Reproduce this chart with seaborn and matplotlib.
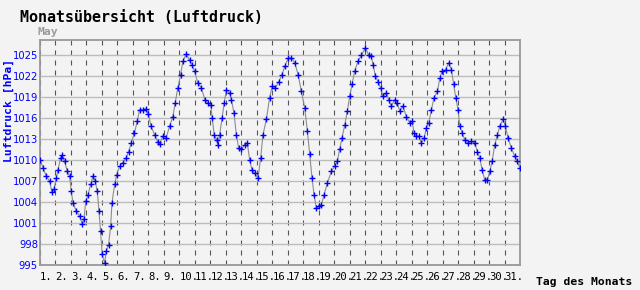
import matplotlib
matplotlib.use("Agg")
import matplotlib.pyplot as plt
import matplotlib.transforms as mtrans
import seaborn as sns
import pandas as pd

# ---- data ----
title = "Monatsübersicht (Luftdruck)"
month_label = "May"
y_label = "Luftdruck [hPa]"
x_label = "Tag des Monats"
day_labels = [f"{d}." for d in range(1, 32)]
y_ticks = [995, 998, 1001, 1004, 1007, 1010, 1013, 1016, 1019, 1022, 1025]

day = [0.00, 0.20, 0.40, 0.62, 0.77, 0.90, 1.05, 1.16, 1.33, 1.42, 1.59, 1.76, 1.91,
       2.02, 2.13, 2.34, 2.56, 2.73, 2.84, 2.95, 3.10, 3.27, 3.42, 3.57, 3.70, 3.81,
       3.91, 4.02, 4.17, 4.28, 4.43, 4.56, 4.65, 4.82, 4.95, 5.14, 5.35, 5.57, 5.72,
       5.89, 6.10, 6.28, 6.43, 6.65, 6.86, 7.00, 7.18, 7.40, 7.61, 7.72, 7.93, 8.15,
       8.37, 8.58, 8.73, 8.90, 9.08, 9.23, 9.44, 9.66, 9.81, 9.98, 10.19, 10.43,
       10.64, 10.86, 11.03, 11.12, 11.25, 11.40, 11.50, 11.60, 11.76, 11.89, 12.04,
       12.25, 12.36, 12.53, 12.68, 12.83, 13.00, 13.22, 13.39, 13.54, 13.69, 13.86,
       14.08, 14.25, 14.40, 14.62, 14.83, 14.99, 15.20, 15.42, 15.63, 15.81, 16.02,
       16.24, 16.45, 16.67, 16.88, 17.10, 17.27, 17.42, 17.57, 17.70, 17.85, 18.00,
       18.17, 18.34, 18.56, 18.82, 19.03, 19.20, 19.35, 19.50, 19.68, 19.85, 20.00,
       20.15, 20.32, 20.54, 20.76, 21.01, 21.23, 21.40, 21.51, 21.66, 21.83, 22.00,
       22.15, 22.37, 22.52, 22.69, 22.91, 23.08, 23.23, 23.45, 23.66, 23.88, 24.03,
       24.16, 24.31, 24.46, 24.63, 24.80, 24.96, 25.11, 25.28, 25.45, 25.67, 25.82,
       25.97, 26.19, 26.40, 26.57, 26.72, 26.85, 27.00, 27.11, 27.26, 27.43, 27.65,
       27.86, 28.08, 28.25, 28.40, 28.55, 28.72, 28.90, 29.05, 29.20, 29.37, 29.54,
       29.69, 29.91, 30.06, 30.23, 30.45, 30.66, 30.83, 30.98]

pressure = [1010.0, 1008.9, 1007.7, 1007.0, 1005.4, 1005.8, 1007.4, 1008.6, 1010.3,
            1010.7, 1009.8, 1008.4, 1007.7, 1005.5, 1003.9, 1002.7, 1002.0, 1000.8,
            1001.5, 1004.1, 1005.0, 1006.5, 1007.7, 1007.0, 1005.5, 1002.7, 999.8,
            996.5, 995.3, 997.0, 997.9, 1000.5, 1003.9, 1006.5, 1007.9, 1009.1, 1009.6,
            1010.3, 1011.2, 1012.4, 1013.9, 1015.5, 1017.2, 1017.2, 1017.3, 1016.5,
            1014.8, 1013.6, 1012.6, 1012.3, 1013.4, 1013.2, 1014.8, 1016.2, 1018.1,
            1020.3, 1022.2, 1024.1, 1025.1, 1024.3, 1023.6, 1022.7, 1021.0, 1020.3,
            1018.6, 1018.1, 1017.9, 1016.0, 1013.6, 1012.9, 1012.1, 1013.6, 1016.0,
            1018.1, 1020.0, 1019.6, 1018.6, 1016.7, 1013.6, 1011.7, 1011.5, 1012.2,
            1012.4, 1010.0, 1008.6, 1008.1, 1007.4, 1010.3, 1013.6, 1015.8, 1018.9,
            1020.5, 1020.3, 1021.2, 1022.2, 1023.4, 1024.5, 1024.6, 1023.9, 1022.2,
            1019.8, 1017.4, 1014.1, 1010.8, 1007.4, 1005.0, 1003.1, 1003.4, 1003.6,
            1005.0, 1006.7, 1008.4, 1009.1, 1009.8, 1011.5, 1013.1, 1015.0, 1017.0,
            1019.1, 1020.8, 1022.7, 1024.1, 1025.0, 1026.0, 1025.0, 1024.8, 1023.6,
            1022.0, 1021.2, 1020.3, 1019.1, 1019.6, 1018.6, 1017.7, 1018.6, 1018.1,
            1017.0, 1017.7, 1016.2, 1015.3, 1015.5, 1013.9, 1013.4, 1013.4, 1012.4,
            1013.1, 1014.6, 1015.3, 1017.2, 1018.9, 1019.8, 1021.7, 1022.7, 1022.9,
            1023.9, 1022.9, 1020.8, 1018.9, 1017.2, 1014.8, 1013.9, 1012.9, 1012.4,
            1012.7, 1012.4, 1011.2, 1010.3, 1008.6, 1007.2, 1007.2, 1008.4, 1009.8,
            1012.2, 1013.6, 1014.8, 1015.8, 1014.8, 1013.1, 1011.7, 1010.5, 1009.8,
            1008.9]

df = pd.DataFrame({"day": day, "hpa": pressure})

# ---- style ----
sns.set_style("white")
plt.rcParams["font.family"] = ["DejaVu Sans Mono", "DejaVu Sans"]
plt.rcParams["lines.scale_dashes"] = False
bg = "#f3f3f3"

fig = plt.figure(figsize=(6.4, 2.9), dpi=100, facecolor=bg)
W, H = 640, 290
L, R, T, B = 40, 520, 40, 265
ax = fig.add_axes([L / W, 1 - B / H, (R - L) / W, (B - T) / H])
ax.set_facecolor(bg)

sns.lineplot(data=df, x="day", y="hpa", ax=ax, sort=False, estimator=None,
             color="#8c8c8c", linewidth=0.8, marker="+", markersize=4.5,
             markeredgecolor="#0000ff", markeredgewidth=1.0, zorder=3)

ax.set_xlim(0, 31)
ax.set_ylim(995, 995 + (B - T) / 7.0)

# y axis
ax.set_yticks(y_ticks)
ax.set_yticklabels([str(v) for v in y_ticks], color="#0000ff",
                   fontsize=7.2, family="DejaVu Sans")
ax.yaxis.grid(True, color="#bdbdbd", linewidth=1.0, linestyle="-", zorder=1)

# x axis
ax.set_xticks(range(len(day_labels)))
ax.set_xticklabels(day_labels, fontsize=7.6, color="#000000")
offset = mtrans.ScaledTranslation(-3.0 / 100, 0, fig.dpi_scale_trans)
for lab in ax.get_xticklabels():
    lab.set_horizontalalignment("left")
    lab.set_transform(lab.get_transform() + offset)
ax.xaxis.grid(True, color="#555555", linewidth=0.8, linestyle=(0, (3.6, 3.6)), zorder=1)
ax.set_axisbelow(True)

ax.tick_params(axis="both", length=0)
ax.tick_params(axis="x", pad=5)
ax.tick_params(axis="y", pad=1.5)
ax.set_xlabel("")
ax.set_ylabel("")

for s in ax.spines.values():
    s.set_color("#999999")
    s.set_linewidth(1.3)
    s.set_visible(True)

# texts
fig.text(20 / W, 1 - 18 / H, title, fontsize=10.8, fontweight="bold",
         color="#000000", ha="left", va="center")
fig.text(37 / W, 1 - 32 / H, month_label, fontsize=8.2, fontweight="bold",
         color="#9a9a9a", ha="left", va="center")
fig.text(9 / W, 1 - 110 / H, y_label, fontsize=8.2, fontweight="bold",
         color="#0000ff", rotation=90, ha="center", va="center")
fig.text(536 / W, 1 - 282 / H, x_label, fontsize=8.2, fontweight="bold",
         color="#000000", ha="left", va="center")

fig.savefig("out.png", dpi=100, facecolor=bg)
